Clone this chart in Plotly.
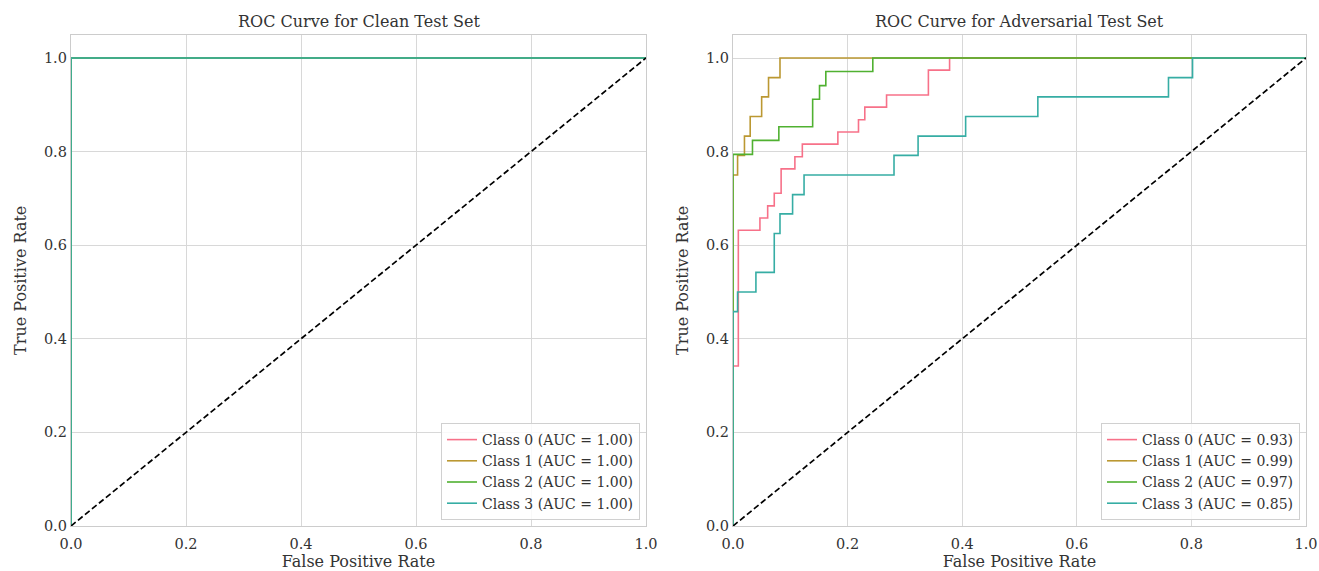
import plotly.graph_objects as go
from plotly.subplots import make_subplots

class_names = ["Class 0", "Class 1", "Class 2", "Class 3"]
colors = ["#f77189", "#bb9832", "#50b131", "#36ada4"]

clean_auc = [1.00, 1.00, 1.00, 1.00]
clean_fpr = [[0, 0, 1.0], [0, 0, 1.0], [0, 0, 1.0], [0, 0, 1.0]]
clean_tpr = [[0, 1.0, 1.0], [0, 1.0, 1.0], [0, 1.0, 1.0], [0, 1.0, 1.0]]

adv_auc = [0.93, 0.99, 0.97, 0.85]
adv_fpr_0 = [0, 0, 0.0093, 0.047, 0.0605, 0.072, 0.084, 0.108, 0.121, 0.183, 0.219, 0.230, 0.268, 0.341, 0.378, 1.0]
adv_tpr_0 = [0, 0.342, 0.632, 0.658, 0.684, 0.711, 0.763, 0.789, 0.816, 0.842, 0.868, 0.895, 0.921, 0.974, 1.0, 1.0]
adv_fpr_1 = [0, 0, 0.008, 0.020, 0.030, 0.050, 0.062, 0.082, 1.0]
adv_tpr_1 = [0, 0.75, 0.792, 0.833, 0.875, 0.917, 0.958, 1.0, 1.0]
adv_fpr_2 = [0, 0, 0.034, 0.080, 0.139, 0.151, 0.162, 0.244, 1.0]
adv_tpr_2 = [0, 0.794, 0.824, 0.853, 0.912, 0.941, 0.971, 1.0, 1.0]
adv_fpr_3 = [0, 0, 0.008, 0.040, 0.072, 0.082, 0.104, 0.124, 0.281, 0.323, 0.406, 0.532, 0.760, 0.802, 1.0]
adv_tpr_3 = [0, 0.458, 0.5, 0.542, 0.625, 0.667, 0.708, 0.75, 0.792, 0.833, 0.875, 0.917, 0.958, 1.0, 1.0]
adv_fpr = [adv_fpr_0, adv_fpr_1, adv_fpr_2, adv_fpr_3]
adv_tpr = [adv_tpr_0, adv_tpr_1, adv_tpr_2, adv_tpr_3]

titles = ["ROC Curve for Clean Test Set", "ROC Curve for Adversarial Test Set"]
diag = [0, 1]
ticks = [0.0, 0.2, 0.4, 0.6, 0.8, 1.0]

FONT = "DejaVu Serif, serif"
TXT = "#333333"
W, H = 1319, 571

fig = make_subplots(rows=1, cols=2)

for col, (fprs, tprs, aucs, leg) in enumerate(
        [(clean_fpr, clean_tpr, clean_auc, "legend"), (adv_fpr, adv_tpr, adv_auc, "legend2")], start=1):
    for i in range(4):
        fig.add_trace(go.Scatter(
            x=fprs[i], y=tprs[i], mode="lines", line_shape="hv",
            line=dict(color=colors[i], width=1.6),
            name=f"{class_names[i]} (AUC = {aucs[i]:.2f})", legend=leg,
        ), row=1, col=col)
    fig.add_trace(go.Scatter(
        x=diag, y=diag, mode="lines", line=dict(color="black", width=1.7, dash="6px,3px"),
        showlegend=False,
    ), row=1, col=col)

y0, y1 = 1 - 526 / H, 1 - 34.6 / H
axis_common = dict(
    showgrid=True, gridcolor="#d8d8d8", gridwidth=1,
    showline=True, linecolor="#cccccc", linewidth=1.3, mirror=True,
    zeroline=False, ticks="", automargin=False,
    tickfont=dict(family=FONT, size=14.5, color=TXT),
    tickvals=ticks, ticktext=[f"{t:.1f}" for t in ticks],
)
xt = dict(text="False Positive Rate", font=dict(family=FONT, size=16, color=TXT), standoff=8)
yt = dict(text="True Positive Rate", font=dict(family=FONT, size=16, color=TXT), standoff=13)
fig.update_layout(
    xaxis=dict(domain=[71 / W, 646 / W], range=[0, 1], title=xt, ticklabelstandoff=4, **axis_common),
    yaxis=dict(domain=[y0, y1], range=[0, 1.05], title=yt, **axis_common),
    xaxis2=dict(domain=[733 / W, 1306 / W], range=[0, 1], title=xt, ticklabelstandoff=4, **axis_common),
    yaxis2=dict(domain=[y0, y1], range=[0, 1.05], title=yt, **axis_common),
)

legend_common = dict(
    xanchor="right", yanchor="bottom", bgcolor="rgba(255,255,255,0.85)",
    bordercolor="#d0d0d0", borderwidth=1, font=dict(family=FONT, size=14, color=TXT),
    tracegroupgap=0, itemwidth=30,
)
fig.update_layout(
    legend=dict(x=640 / W, y=1 - 520 / H, **legend_common),
    legend2=dict(x=1300 / W, y=1 - 520 / H, **legend_common),
)

for k, t in enumerate(titles):
    cx = [(71 + 646) / 2 / W, (733 + 1306) / 2 / W][k]
    fig.add_annotation(text=t, x=cx, y=1 - 21 / H, xref="paper", yref="paper",
                       showarrow=False, xanchor="center", yanchor="middle",
                       font=dict(family=FONT, size=16, color=TXT))

fig.update_layout(
    width=W, height=H, margin=dict(l=0, r=0, t=0, b=0),
    paper_bgcolor="white", plot_bgcolor="white",
    font=dict(family=FONT, color=TXT),
)

fig.write_html("out.html")
